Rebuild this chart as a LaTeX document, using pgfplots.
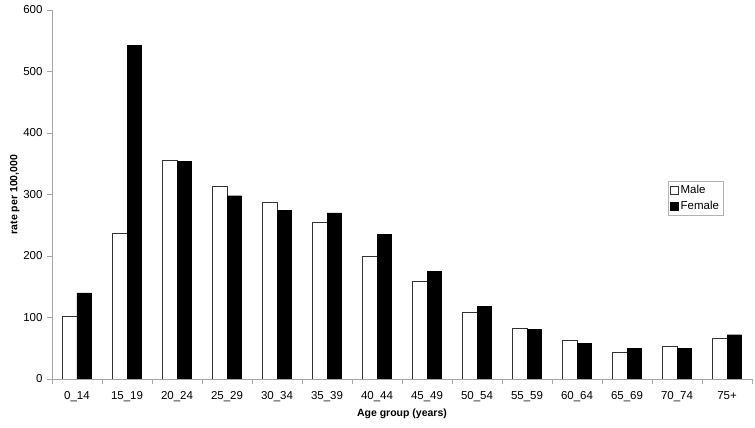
\documentclass[border=0pt]{standalone}
\usepackage{pgfplots}
\pgfplotsset{compat=1.18}
\usepackage{fontspec}
\setmainfont{Liberation Sans}
\begin{document}
\begin{tikzpicture}
  \begin{axis}[
    scale only axis,
    width=700pt, height=369pt,
    ybar=0pt, bar width=14.5pt,
    xmin=-0.5, xmax=13.5,
    ymin=0, ymax=600,
    axis lines*=left,
    axis line style={gray!70},
    xtick={0,...,13},
    xticklabels={0\_14,15\_19,20\_24,25\_29,30\_34,35\_39,40\_44,45\_49,50\_54,55\_59,60\_64,65\_69,70\_74,75+},
    major x tick style={draw=none},
    minor xtick={-0.5,0.5,...,13.5},
    minor x tick style={gray!70},
    ytick={0,100,...,600},
    tick align=outside,
    major tick length=5pt, minor tick length=5pt,
    y tick style={gray!70},
    tick label style={font=\fontsize{11.5}{13}\selectfont},
    /pgf/number format/assume math mode=true,
    xticklabel style={yshift=-4pt},
    yticklabel style={xshift=-1pt},
    xlabel={\textbf{Age group (years)}},
    ylabel={\textbf{rate per 100,000}},
    label style={font=\fontsize{10.5}{12}\selectfont},
    xlabel style={at={(axis description cs:0.5,-0.095)}, anchor=center},
    ylabel style={at={(axis description cs:-0.053,0.5)}, anchor=center, rotate=0},
    legend cell align=left,
    legend style={at={(0.88,0.537)}, anchor=north west, draw=gray!60,
      font=\fontsize{11.5}{13}\selectfont, inner sep=2pt, row sep=2pt,
      /tikz/every odd column/.style={xshift=1pt}},
    legend image code/.code={\draw[#1] (0pt,-4pt) rectangle (8pt,4pt);},
  ]
    \addplot[fill=white, draw=black!80]
      coordinates {(0,102) (1,237) (2,355) (3,313) (4,288) (5,255) (6,199)
                   (7,159) (8,108) (9,83) (10,63) (11,44) (12,54) (13,67)};
    \addplot[fill=black, draw=black]
      coordinates {(0,140) (1,543) (2,354) (3,298) (4,274) (5,270) (6,235)
                   (7,175) (8,118) (9,81) (10,58) (11,50) (12,50) (13,72)};
    \legend{Male, Female}
  \end{axis}
  \pgfresetboundingbox
  \useasboundingbox (-52pt,-49pt) rectangle (703pt,379pt);
\end{tikzpicture}
\end{document}
